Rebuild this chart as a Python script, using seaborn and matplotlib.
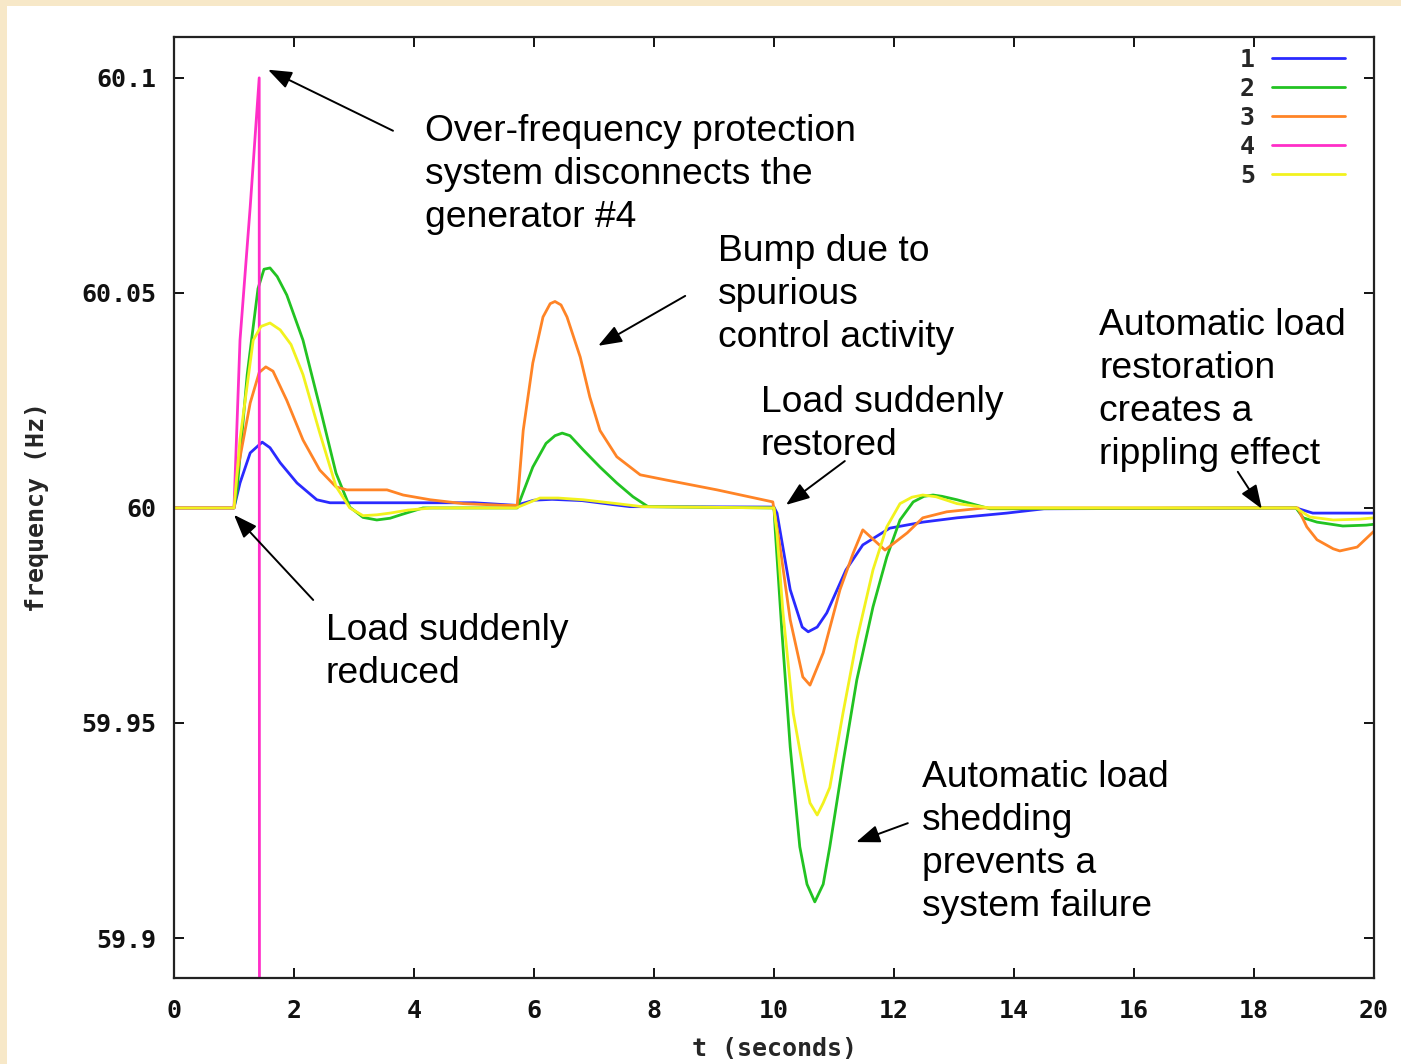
import numpy as np
import pandas as pd
import matplotlib
matplotlib.use("Agg")
import matplotlib.pyplot as plt
from matplotlib.patches import Rectangle
from matplotlib.font_manager import FontProperties
import seaborn as sns

# --- data (t in seconds, frequency in Hz) ---
t1 = [0, 1.0, 1.1, 1.27, 1.47, 1.6, 1.77, 2.05, 2.38, 2.6, 5.0, 5.7, 6.0, 6.3, 6.8, 7.3, 7.6,
      10.0, 10.05, 10.27, 10.47, 10.57, 10.72, 10.88, 11.2, 11.48, 11.93, 12.48, 13.05,
      13.88, 14.5, 18.7, 18.98, 20]
f1 = [60, 60, 60.0058, 60.0128, 60.0153, 60.014, 60.0105, 60.0058, 60.0019, 60.0012, 60.0012,
      60.0006, 60.0018, 60.002, 60.0017, 60.0008, 60.0003,
      60.0002, 59.9988, 59.981, 59.9723, 59.9712, 59.9723, 59.9756, 59.9856, 59.9914,
      59.9953, 59.9967, 59.9977, 59.9988, 59.9998, 60.0, 59.9988, 59.9988]

t2 = [0, 1.0, 1.05, 1.22, 1.4, 1.5, 1.6, 1.72, 1.88, 2.15, 2.43, 2.7, 2.93, 3.15, 3.38,
      3.6, 3.8, 4.15,
      5.72, 5.98, 6.2, 6.35, 6.47, 6.6, 6.82, 7.1, 7.38, 7.65, 7.9,
      10.0, 10.02, 10.13, 10.27, 10.43, 10.55, 10.68, 10.82, 10.93, 11.15, 11.38, 11.65,
      11.88, 12.1, 12.32, 12.5, 12.65, 12.8, 13.05, 13.6, 18.7, 18.82, 19.05, 19.48,
      19.87, 20]
f2 = [60, 60, 60.004, 60.031, 60.051, 60.0555, 60.0558, 60.0538, 60.0495, 60.039, 60.0235,
      60.0081, 60.0002, 59.9978, 59.9972, 59.9976, 59.9985, 60.0,
      60.0, 60.0095, 60.015, 60.0168, 60.0174, 60.0168, 60.0135, 60.0095, 60.0058,
      60.0026, 60.0003,
      60.0, 59.995, 59.9716, 59.9444, 59.9212, 59.9125, 59.9084, 59.9125, 59.9212,
      59.9407, 59.96, 59.977, 59.9886, 59.9972, 60.0014, 60.0027, 60.003, 60.0027,
      60.0019, 59.9998, 60.0, 59.9977, 59.9967, 59.9958, 59.996, 59.9962]

t3 = [0, 1.0, 1.05, 1.27, 1.42, 1.53, 1.65, 1.88, 2.15, 2.43, 2.7, 2.88, 3.55, 3.82, 4.27,
      4.82, 5.5,
      5.72, 5.82, 5.98, 6.15, 6.27, 6.35, 6.45, 6.55, 6.77, 6.93, 7.1, 7.38, 7.77, 8.2,
      9.05, 9.98,
      10.1, 10.27, 10.48, 10.6, 10.82, 11.1, 11.32, 11.48, 11.85, 12.22, 12.48, 12.88, 13.5,
      18.73, 18.88, 19.05, 19.32, 19.43, 19.72, 20]
f3 = [60, 60, 60.008, 60.0244, 60.0315, 60.0328, 60.0318, 60.025, 60.0158, 60.0088,
      60.0049, 60.0042, 60.0042, 60.003, 60.0019, 60.001, 60.0006,
      60.0006, 60.018, 60.0337, 60.0444, 60.0475, 60.048, 60.0472, 60.0444, 60.0351,
      60.0258, 60.018, 60.0119, 60.0077, 60.0065, 60.0042, 60.0014,
      59.991, 59.974, 59.9607, 59.9588, 59.9663, 59.981, 59.9895, 59.9949, 59.9902,
      59.9942, 59.9977, 59.9991, 60.0,
      60.0, 59.9956, 59.9926, 59.9905, 59.99, 59.9909, 59.9946]

t4 = [0, 1.0, 1.1, 1.27, 1.42, 1.425]
f4 = [60, 60, 60.039, 60.07, 60.1, 59.85]

t5 = [0, 1.0, 1.1, 1.32, 1.45, 1.6, 1.77, 1.95, 2.15, 2.43, 2.7, 2.93, 3.15, 3.38, 3.6,
      3.9, 4.3,
      5.7, 6.1, 6.4, 6.82, 7.38, 7.8,
      10.0, 10.05, 10.15, 10.32, 10.52, 10.6, 10.72, 10.82, 10.93, 11.15, 11.38, 11.65,
      11.88, 12.1, 12.3, 12.48, 12.7, 13.05, 13.6, 18.7, 18.93, 19.32, 19.77, 20]
f5 = [60, 60, 60.016, 60.039, 60.0422, 60.043, 60.0414, 60.038, 60.031, 60.0174, 60.005,
      60.0, 59.9982, 59.9984, 59.9988, 59.9995, 60.0,
      60.0, 60.0023, 60.0023, 60.0019, 60.001, 60.0003,
      60.0, 59.994, 59.9756, 59.9523, 59.9367, 59.9314, 59.9286, 59.9314, 59.935,
      59.9523, 59.9693, 59.9856, 59.9956, 60.001, 60.0025, 60.003, 60.0026, 60.001,
      60.0, 60.0, 59.9979, 59.9972, 59.9974, 59.9977]

series = [("1", t1, f1), ("2", t2, f2), ("3", t3, f3), ("4", t4, f4), ("5", t5, f5)]
colors = ["#2a2aff", "#22c322", "#ff8426", "#ff2ec8", "#f2f21e"]

xticks = [0, 2, 4, 6, 8, 10, 12, 14, 16, 18, 20]
yticks = [59.9, 59.95, 60, 60.05, 60.1]
ytick_labels = ["59.9", "59.95", "60", "60.05", "60.1"]

# annotations: text, text position, arrow tail, arrow head (data coords)
notes = [
    ("Over-frequency protection\nsystem disconnects the\ngenerator #4",
     (4.18, 60.0775), (3.65, 60.0877), (1.567, 60.1019)),
    ("Bump due to\nspurious\ncontrol activity",
     (9.07, 60.0497), (8.52, 60.0493), (7.07, 60.0377)),
    ("Load suddenly\nrestored",
     (9.78, 60.0196), (11.18, 60.0109), (10.2, 60.0007)),
    ("Automatic load\nrestoration\ncreates a\nrippling effect",
     (15.42, 60.0275), (17.73, 60.0084), (18.13, 59.9998)),
    ("Load suddenly\nreduced",
     (2.53, 59.9666), (2.32, 59.9786), (1.0, 59.9984)),
    ("Automatic load\nshedding\nprevents a\nsystem failure",
     (12.47, 59.9223), (12.23, 59.9267), (11.37, 59.9223)),
]

# --- style ---
sns.set_style("ticks")
plt.rcParams['font.family'] = ['Liberation Sans', 'DejaVu Sans']
mono = FontProperties(family='DejaVu Sans Mono', weight='bold', size=18)

fig = plt.figure(figsize=(14.01, 10.64), dpi=100, facecolor='#f7e8c8')
fig.patches.append(Rectangle((7 / 1401, 0), 1, 1 - 6 / 1064, transform=fig.transFigure,
                             facecolor='white', edgecolor='none', zorder=-1))
ax = fig.add_axes([174 / 1401, 1 - 978 / 1064, 1200 / 1401, 941 / 1064])
ax.set_facecolor('white')

for (name, t, f), c in zip(series, colors):
    df = pd.DataFrame({'t': t, 'freq': f})
    sns.lineplot(data=df, x='t', y='freq', ax=ax, color=c, lw=2, label=name,
                 sort=False, estimator=None)

ax.set_xlim(0, 20)
ax.set_ylim(59.8907, 60.1095)
ax.set_xticks(xticks)
ax.set_xticklabels([str(v) for v in xticks])
ax.set_yticks(yticks)
ax.set_yticklabels(ytick_labels)
ax.tick_params(direction='in', length=7, width=1.4, top=True, right=True, colors='#111')
ax.tick_params(axis='x', pad=15)
ax.tick_params(axis='y', pad=13)
for lab in ax.get_xticklabels() + ax.get_yticklabels():
    lab.set_fontproperties(mono)

for sp in ax.spines.values():
    sp.set_linewidth(1.6)
    sp.set_color('#222')

ax.set_xlabel('t (seconds)', fontproperties=mono)
ax.set_ylabel('frequency (Hz)', fontproperties=mono)
ax.xaxis.set_label_coords(0.5, -0.063)
ax.yaxis.set_label_coords(-0.104, 0.5)

ax.legend(loc='upper right', bbox_to_anchor=(0.9758, 0.9885), frameon=False,
          markerfirst=False, prop=mono, handlelength=2.9, handletextpad=0.7,
          labelspacing=0.2, borderaxespad=0, borderpad=0)

for text, tpos, tail, head in notes:
    ax.text(tpos[0], tpos[1], text, fontsize=26.8, ha='left', va='center',
            linespacing=1.3, color='black')
    ax.annotate('', xy=head, xytext=tail,
                arrowprops=dict(arrowstyle='-|>,head_length=0.8,head_width=0.3',
                                color='black', lw=1.4, mutation_scale=18,
                                shrinkA=0, shrinkB=0))

fig.savefig('out.png', dpi=100, facecolor=fig.get_facecolor())
